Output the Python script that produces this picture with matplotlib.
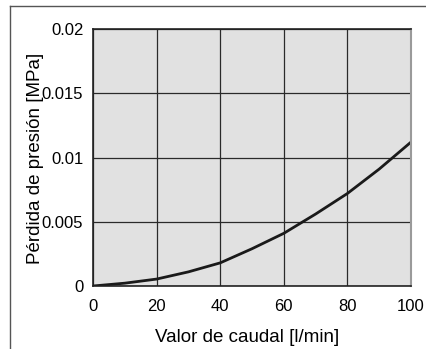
import matplotlib
matplotlib.use("Agg")
import matplotlib.pyplot as plt
from matplotlib.lines import Line2D

plt.rcParams['font.family'] = ['Liberation Sans', 'DejaVu Sans']

flow = [0, 10, 20, 30, 40, 50, 60, 70, 80, 90, 100]
loss = [0, 0.00022, 0.00054, 0.0011, 0.0018, 0.0029, 0.0041, 0.0056, 0.0072, 0.0091, 0.0112]
xticks = [0, 20, 40, 60, 80, 100]
yticks = [0, 0.005, 0.01, 0.015, 0.02]
yticklabels = ['0', '0.005', '0.01', '0.015', '0.02']

fig = plt.figure(figsize=(4.26, 3.49), dpi=100)
ax = fig.add_axes([0.2183, 0.1805, 0.7465, 0.7364])
ax.set_facecolor('#e1e1e1')

ax.plot(flow, loss, color='#1a1a1a', lw=2.0, solid_capstyle='butt')

ax.set_xlim(0, 100)
ax.set_ylim(0, 0.02)
ax.set_xticks(xticks)
ax.set_yticks(yticks)
ax.set_yticklabels(yticklabels)
ax.tick_params(length=0, labelsize=12)
ax.tick_params(axis='x', pad=9)
ax.tick_params(axis='y', pad=7)
ax.grid(True, color='#2a2a2a', lw=0.9)
ax.set_axisbelow(True)
for s in ['left', 'bottom', 'top']:
    ax.spines[s].set_color('#222222')
    ax.spines[s].set_linewidth(1.2)
ax.spines['right'].set_color('#9a9a9a')
ax.spines['right'].set_linewidth(1.5)

# axis titles placed as in the original
fig.text(155 / 426, 1 - 342 / 349, 'Valor de caudal [l/min]', fontsize=13.5,
         ha='left', va='baseline')
fig.text(40 / 426, 1 - 158.5 / 349, 'Pérdida de presión [MPa]', fontsize=13.5,
         rotation=90, rotation_mode='anchor', ha='center', va='baseline')

# outer frame
fig.add_artist(Line2D([10 / 426, 10 / 426], [0, 1 - 6 / 349], transform=fig.transFigure, color='#555555', lw=1.0))
fig.add_artist(Line2D([10 / 426, 1], [1 - 6 / 349, 1 - 6 / 349], transform=fig.transFigure, color='#555555', lw=1.0))

fig.savefig('out.png', dpi=100)
